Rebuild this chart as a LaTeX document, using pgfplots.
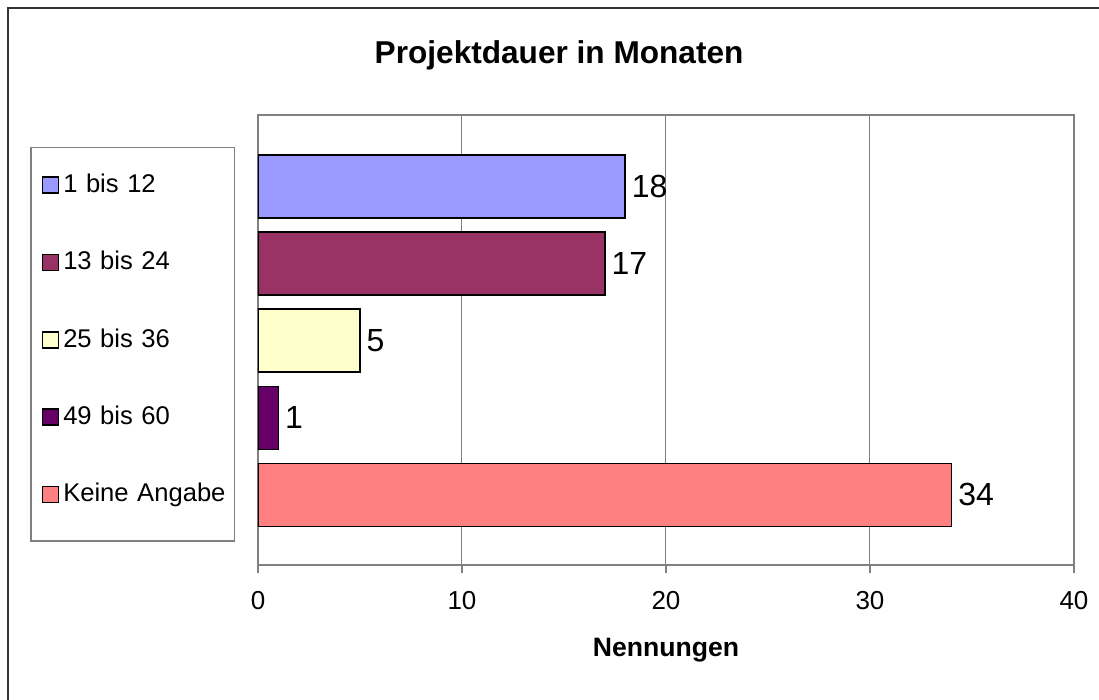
\documentclass[border=0pt]{standalone}
\usepackage{fontspec}
\setmainfont{Liberation Sans}
\usepackage{pgfplots}
\pgfplotsset{compat=1.18}
\definecolor{cA}{HTML}{9999FF}
\definecolor{cB}{HTML}{993366}
\definecolor{cC}{HTML}{FFFFCC}
\definecolor{cD}{HTML}{660066}
\definecolor{cE}{HTML}{FF8080}
\definecolor{frame}{HTML}{808080}
\begin{document}
\begin{tikzpicture}
\useasboundingbox (-129pt,-67.5pt) rectangle (420.5pt,282.5pt);
\draw[line width=1pt, color=black!80] (-125pt,-80pt) -- (-125pt,278.5pt) -- (430pt,278.5pt);
\begin{axis}[
  at={(0pt,0pt)}, anchor=south west,
  scale only axis, width=408pt, height=225pt,
  xmin=0, xmax=40, ymin=-0.927, ymax=4.909, y dir=reverse,
  xbar, bar width=0.817,
  xtick={0,10,20,30,40}, ytick=\empty, xtick pos=bottom,
  xmajorgrids, grid style={frame, line width=0.5pt},
  axis line style={frame, line width=0.75pt},
  tick align=outside, major tick length=4pt,
  tick style={frame, line width=0.75pt},
  /pgf/number format/assume math mode=true,
  xticklabel style={font=\fontsize{13}{15}\selectfont, anchor=base, yshift=-18.5pt},
  title={Projektdauer in Monaten},
  title style={font=\bfseries\fontsize{15.8}{18}\selectfont, at={(axis description cs:0.369,1.115)}, anchor=base, yshift=-6pt},
  xlabel={Nennungen},
  xlabel style={font=\bfseries\fontsize{13.3}{15}\selectfont, at={(axis description cs:0.5,-0.204)}, anchor=base},
  point meta=x,
  nodes near coords,
  every node near coord/.append style={font=\fontsize{16}{18}\selectfont, anchor=west, inner xsep=3pt, black},
  legend image code/.code={\draw[#1, draw=black, line width=0.75pt] (0pt,-1.8pt) rectangle (8pt,6.2pt);},
  legend cell align=left,
  legend style={at={(axis description cs:-0.2794,0.9296)}, anchor=north west,
    draw=frame, line width=0.75pt, inner xsep=5.5pt, inner ysep=2pt,
    font=\fontsize{12.8}{15}\selectfont,
    row sep=0.45pt, column sep=2pt,
    nodes={text height=20.6pt, text depth=17.6pt, inner ysep=0pt, inner xsep=0pt, text width=80pt, align=left}},
]
\addplot[fill=cA, draw=black, line width=0.75pt, bar shift=0pt] coordinates {(18,0)};
\addplot[fill=cB, draw=black, line width=0.75pt, bar shift=0pt] coordinates {(17,1)};
\addplot[fill=cC, draw=black, line width=0.75pt, bar shift=0pt] coordinates {(5,2)};
\addplot[fill=cD, draw=black, line width=0.75pt, bar shift=0pt] coordinates {(1,3)};
\addplot[fill=cE, draw=black, line width=0.75pt, bar shift=0pt] coordinates {(34,4)};
\legend{1 bis 12, 13 bis 24, 25 bis 36, 49 bis 60, \mbox{Keine Angabe}}
\end{axis}
\end{tikzpicture}
\end{document}
